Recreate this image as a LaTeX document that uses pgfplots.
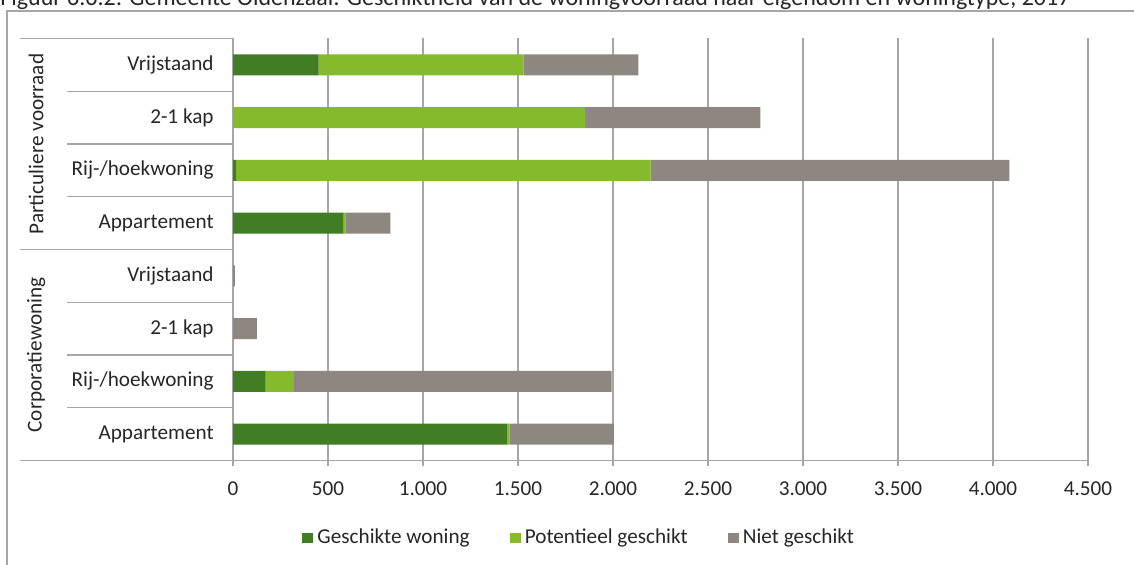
\documentclass[border=0pt]{standalone}
\usepackage{fontspec}
\setmainfont{Carlito}
\usepackage{pgfplots}
\pgfplotsset{compat=1.18}
\usepackage{pgfplotstable}

\definecolor{geschikt}{RGB}{64,125,35}
\definecolor{potentieel}{RGB}{132,186,44}
\definecolor{niet}{RGB}{142,135,128}
\definecolor{rule}{RGB}{166,166,166}
\definecolor{ink}{RGB}{38,38,38}

% Woningvoorraad per type: 0-3 corporatie, 4-7 particulier
\pgfplotstableread{
pos geschikt potentieel niet
0 1442 13 550
1 172 149 1672
2 0 0 125
3 0 0 10
4 579 12 237
5 17 2181 1888
6 0 1853 922
7 450 1080 603
}\voorraad

\begin{document}
\fontsize{10.6pt}{12.7pt}\selectfont
\begin{tikzpicture}[font=\fontsize{10.6pt}{12.7pt}\selectfont]
\useasboundingbox (0,0) rectangle (567pt,282.5pt);
\clip (0,0) rectangle (567pt,282.5pt);
\draw[rule, line width=0.6pt] (3.5pt,-5pt) -- (3.5pt,277pt) -- (580pt,277pt);
\node[anchor=base west, inner sep=0pt, text=ink, font=\fontsize{12pt}{14pt}\selectfont] at (0pt,279.5pt)
  {Figuur 6.6.2: Gemeente Oldenzaal: Geschiktheid van de woningvoorraad naar eigendom en woningtype, 2017};
\begin{axis}[
  at={(116.5pt,52.25pt)}, anchor=south west,
  scale only axis, width=427.5pt, height=211pt,
  xbar stacked, bar width=10.5pt,
  xmin=0, xmax=4500, ymin=-0.5, ymax=7.5,
  xtick={0,500,...,4500},
  ytick={0,...,7},
  yticklabels={Appartement,Rij-/hoekwoning,2-1 kap,Vrijstaand,Appartement,Rij-/hoekwoning,2-1 kap,Vrijstaand},
  axis line style={draw=none},
  xmajorgrids, grid style={rule, line width=0.6pt},
  tick align=outside, xtick pos=bottom, ytick style={draw=none},
  xtick style={rule, line width=0.6pt}, major tick length=3pt,
  tick label style={font=\fontsize{10.6pt}{12.7pt}\selectfont},
  yticklabel style={inner sep=0pt, xshift=-6.5pt, text=ink},
  xticklabel style={text=ink, yshift=-4pt},
  /pgf/number format/1000 sep={.},
  /pgf/number format/assume math mode=true,
  clip=false,
  legend columns=3,
  legend cell align=left,
  legend style={at={(0.406,-0.1837)}, anchor=center, draw=none, fill=none,
    text=ink, font=\fontsize{10.6pt}{12.7pt}\selectfont,
    /tikz/every even column/.append style={column sep=18pt}},
  legend image code/.code={\fill[#1] (0pt,-2.7pt) rectangle (5.6pt,2.7pt);},
]
\addplot[fill=geschikt, draw=none] table[x=geschikt, y=pos]{\voorraad};
\addplot[fill=potentieel, draw=none] table[x=potentieel, y=pos]{\voorraad};
\addplot[fill=niet, draw=none] table[x=niet, y=pos]{\voorraad};
\legend{Geschikte woning, Potentieel geschikt, Niet geschikt}

% scheidingslijnen van de categorie-as
\draw[rule, line width=0.6pt] (axis cs:0,0.5) -- ++(-83pt,0pt);
\draw[rule, line width=0.6pt] (axis cs:0,1.5) -- ++(-83pt,0pt);
\draw[rule, line width=0.6pt] (axis cs:0,2.5) -- ++(-83pt,0pt);
\draw[rule, line width=0.6pt] (axis cs:0,4.5) -- ++(-83pt,0pt);
\draw[rule, line width=0.6pt] (axis cs:0,5.5) -- ++(-83pt,0pt);
\draw[rule, line width=0.6pt] (axis cs:0,6.5) -- ++(-83pt,0pt);
\draw[rule, line width=0.6pt] (axis cs:0,3.5) -- ++(-106.5pt,0pt);
\draw[rule, line width=0.6pt] (axis cs:0,7.5) -- ++(-106.5pt,0pt);
\draw[rule, line width=0.6pt] (axis cs:4500,-0.5) -- (axis cs:0,-0.5) -- ++(-106.5pt,0pt);

\path (axis cs:0,5.5) ++(-98.5pt,0pt) node[rotate=90, text=ink] {Particuliere voorraad};
\path (axis cs:0,1.5) ++(-98.5pt,0pt) node[rotate=90, text=ink] {Corporatiewoning};
\end{axis}
\end{tikzpicture}
\end{document}
